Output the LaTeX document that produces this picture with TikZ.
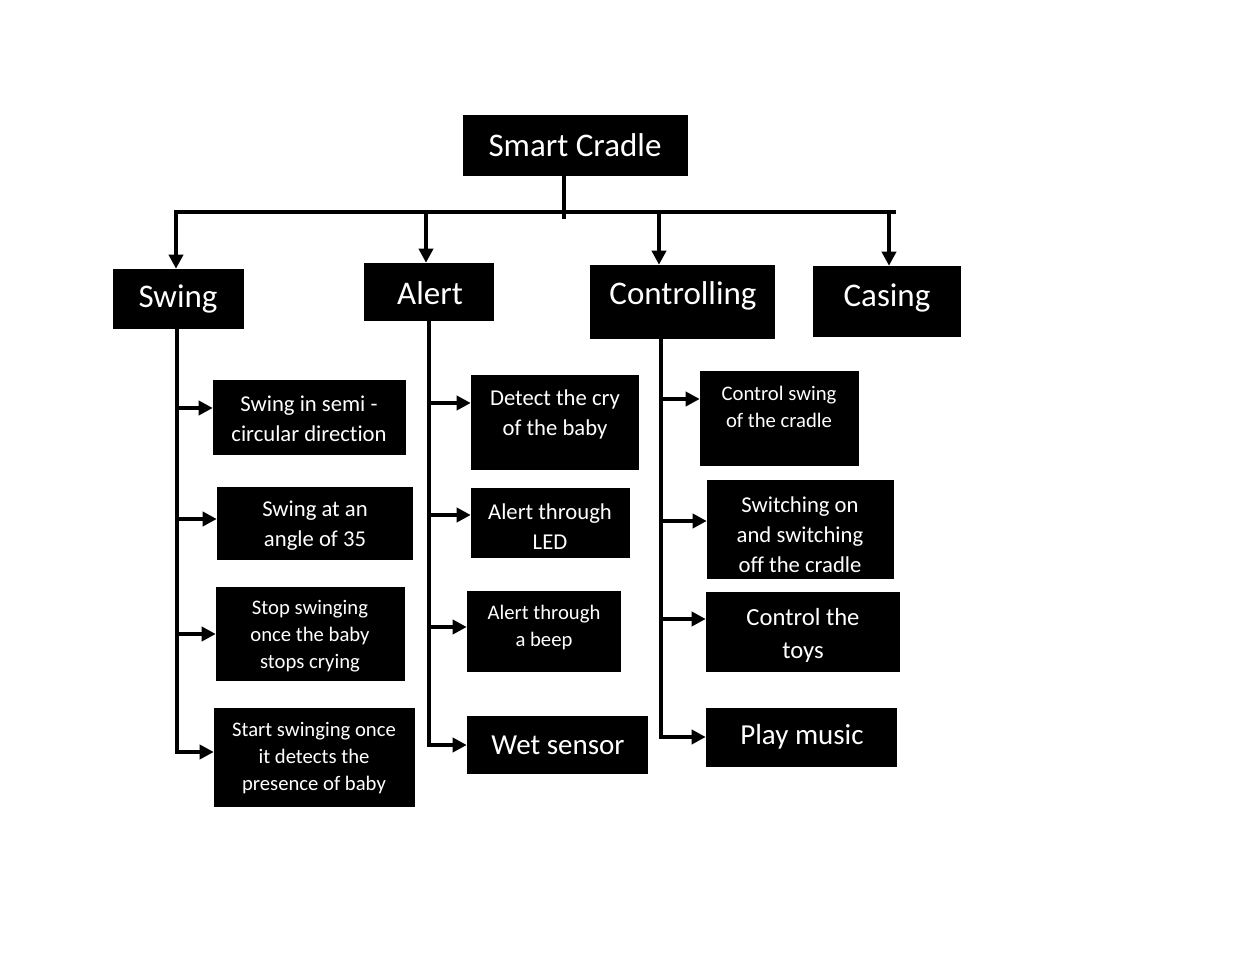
\documentclass[tikz,border=0pt]{standalone}
\usepackage{fontspec}
\setmainfont{Carlito}[Ligatures=NoCommon]
\usetikzlibrary{fit,arrows.meta}
\begin{document}
\begin{tikzpicture}[x=0.75pt,y=-0.75pt,
  box/.style={fill=black, draw=none, inner sep=0pt},
  txt/.style={text=white, align=center, inner sep=0pt},
  fbig/.style={font=\fontsize{24.75pt}{30pt}\selectfont},
  flarge/.style={font=\fontsize{21.75pt}{26pt}\selectfont},
  fmid/.style={font=\fontsize{18.5pt}{24.75pt}\selectfont},
  fmed/.style={font=\fontsize{17pt}{22.5pt}\selectfont},
  fsmall/.style={font=\fontsize{15.5pt}{20.25pt}\selectfont},
  conn/.style={line width=3pt},
  arr/.style={line width=3pt, -{Triangle[length=10.5pt,width=10.5pt]}}]
\useasboundingbox[fill=white] (0,0) rectangle (1240,969);

% top level
\node[box, fit={(463,115)(688,176)}] (b-sc) {};
\node[txt, fbig] (t-sc) at (575,145) {Smart Cradle};

\node[box, fit={(113,269)(244,329)}] (b-sw) {};
\node[txt, fbig] (t-sw) at (178,299) {Swing};
\node[box, fit={(364,263)(494,321)}] (b-al) {};
\node[txt, fbig] (t-al) at (430,293) {Alert};
\node[box, fit={(590,265)(775,339)}] (b-co) {};
\node[txt, fbig] (t-co) at (683,296) {Controlling};
\node[box, fit={(813,266)(961,337)}] (b-ca) {};
\node[txt, fbig] (t-ca) at (887,298) {Casing};

% swing children
\node[box, fit={(213,380)(406,455)}] (b-s1) {};
\node[txt, fmed] (t-s1) at (309,419) {Swing in semi -\\circular direction};
\node[box, fit={(217,487)(413,560)}] (b-s2) {};
\node[txt, fmed] (t-s2) at (315,526) {Swing at an\\angle of 35};
\node[box, fit={(216,587)(405,681)}] (b-s3) {};
\node[txt, fsmall] (t-s3) at (310,636) {Stop swinging\\once the baby\\stops crying};
\node[box, fit={(214,708)(415,807)}] (b-s4) {};
\node[txt, fsmall] (t-s4) at (314,758) {Start swinging once\\it detects the\\presence of baby};

% alert children
\node[box, fit={(471,375)(639,470)}] (b-a1) {};
\node[txt, fmed] (t-a1) at (555,414) {Detect the cry\\of the baby};
\node[box, fit={(471,488)(630,558)}] (b-a2) {};
\node[txt, fmed] (t-a2) at (550,527) {Alert through\\LED};
\node[box, fit={(467,591)(621,672)}] (b-a3) {};
\node[txt, fsmall] (t-a3) at (544,627) {Alert through\\a beep};
\node[box, fit={(467,716)(648,774)}] (b-a4) {};
\node[txt, flarge] (t-a4) at (558,745) {Wet sensor};

% controlling children
\node[box, fit={(700,371)(859,466)}] (b-c1) {};
\node[txt, fsmall] (t-c1) at (779,407) {Control swing\\of the cradle};
\node[box, fit={(707,480)(894,579)}] (b-c2) {};
\node[txt, fmed] (t-c2) at (800,535) {Switching on\\and switching\\off the cradle};
\node[box, fit={(706,592)(900,672)}] (b-c3) {};
\node[txt, fmid] (t-c3) at (803,635) {Control the\\toys};
\node[box, fit={(706,708)(897,767)}] (b-c4) {};
\node[txt, flarge] (t-c4) at (802,737) {Play music};

% top connectors
\coordinate (tjb) at (564,219);
\draw[conn] (b-sc.south -| tjb) -- (tjb);
\coordinate (hl) at (174,212);
\coordinate (hr) at (896,212);
\draw[conn] (hl) -- (hr);
\coordinate (d1) at (176,212);
\coordinate (d2) at (426,212);
\coordinate (d3) at (659,212);
\coordinate (d4) at (889,212);
\draw[arr] (d1) -- (d1 |- b-sw.north);
\draw[arr] (d2) -- (d2 |- b-al.north);
\draw[arr] (d3) -- (d3 |- b-co.north);
\draw[arr] (d4) -- (d4 |- b-ca.north);

% swing spine
\coordinate (s1) at (177,754);
\draw[conn] (b-sw.south -| s1) -- (s1);
\coordinate (s1a) at (177,408);
\coordinate (s1b) at (177,519);
\coordinate (s1c) at (177,634);
\coordinate (s1d) at (177,752);
\draw[arr] (s1a) -- (s1a -| b-s1.west);
\draw[arr] (s1b) -- (s1b -| b-s2.west);
\draw[arr] (s1c) -- (s1c -| b-s3.west);
\draw[arr] (s1d) -- (s1d -| b-s4.west);

% alert spine
\coordinate (s2) at (429,747);
\draw[conn] (b-al.south -| s2) -- (s2);
\coordinate (s2a) at (429,403);
\coordinate (s2b) at (429,515);
\coordinate (s2c) at (429,627);
\coordinate (s2d) at (429,745);
\draw[arr] (s2a) -- (s2a -| b-a1.west);
\draw[arr] (s2b) -- (s2b -| b-a2.west);
\draw[arr] (s2c) -- (s2c -| b-a3.west);
\draw[arr] (s2d) -- (s2d -| b-a4.west);

% controlling spine
\coordinate (s3) at (661,739);
\draw[conn] (b-co.south -| s3) -- (s3);
\coordinate (s3a) at (661,399);
\coordinate (s3b) at (661,521);
\coordinate (s3c) at (661,619);
\coordinate (s3d) at (661,737);
\draw[arr] (s3a) -- (s3a -| b-c1.west);
\draw[arr] (s3b) -- (s3b -| b-c2.west);
\draw[arr] (s3c) -- (s3c -| b-c3.west);
\draw[arr] (s3d) -- (s3d -| b-c4.west);
\end{tikzpicture}
\end{document}
